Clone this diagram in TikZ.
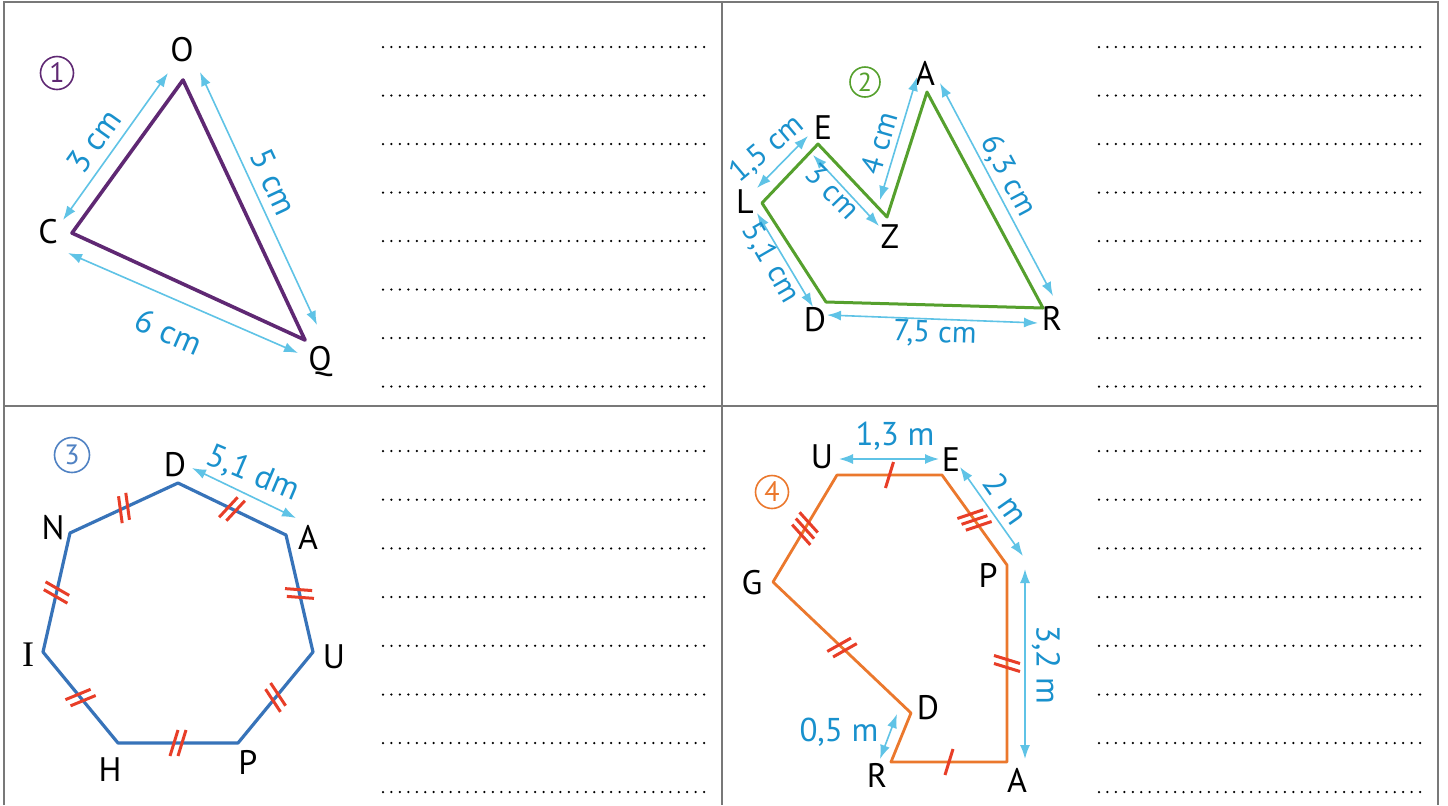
\documentclass[tikz,border=0pt]{standalone}
\usepackage{fontspec}
\setmainfont{PT Sans}
\newfontfamily\serifI{Liberation Serif}
\usetikzlibrary{arrows.meta,decorations.markings}
\definecolor{framegray}{RGB}{120,120,120}
\definecolor{purp}{RGB}{95,40,115}
\definecolor{grn}{RGB}{85,160,45}
\definecolor{blu}{RGB}{55,115,185}
\definecolor{blucirc}{RGB}{80,130,195}
\definecolor{orng}{RGB}{235,120,45}
\definecolor{tickred}{RGB}{232,62,40}
\definecolor{dimarrowc}{RGB}{95,195,230}
\definecolor{dimtext}{RGB}{25,145,205}
\tikzset{
  frameline/.style={draw=framegray, line width=1pt},
  dotrow/.style={draw=black, line width=1.25pt, line cap=round, dash pattern=on 0pt off 4.225pt},
  vlab/.style={font=\fontsize{17}{19}\selectfont, text=black, inner sep=0pt},
  dlab/.style={font=\fontsize{16.5}{19}\selectfont, text=dimtext, inner sep=0pt},
  dlabs/.style={font=\fontsize{15.2}{17}\selectfont, text=dimtext, inner sep=0pt},
  numcirc/.style={circle, line width=0.8pt, minimum size=16.5pt, inner sep=0pt, font=\fontsize{14}{15}\selectfont},
  dimarrow/.style={draw=dimarrowc, line width=0.8pt, {Latex[length=7pt,width=5pt]}-{Latex[length=7pt,width=5pt]}},
  polyline/.style={line width=#1, line join=round},
  tickstyle/.style={draw=tickred, line width=1.5pt},
  ticka/.style={postaction={decorate, decoration={markings, mark=at position 0.5 with {\draw[tickstyle] (-2pt,-6.5pt) -- (2pt,6.5pt);}}}},
  tickb/.style={postaction={decorate, decoration={markings, mark=at position 0.5 with {\draw[tickstyle] (-4pt,-6.5pt) -- (0pt,6.5pt); \draw[tickstyle] (0pt,-6.5pt) -- (4pt,6.5pt);}}}},
  tickc/.style={postaction={decorate, decoration={markings, mark=at position 0.5 with {\draw[tickstyle] (-5.6pt,-6.5pt) -- (-1.6pt,6.5pt); \draw[tickstyle] (-2pt,-6.5pt) -- (2pt,6.5pt); \draw[tickstyle] (1.6pt,-6.5pt) -- (5.6pt,6.5pt);}}}}
}
\begin{document}
\begin{tikzpicture}[x=0.5pt,y=-0.5pt]
\useasboundingbox (0,0) rectangle (1448,805);
\fill[white] (0,0) rectangle (1448,805);
% frame
\draw[frameline] (4,805) -- (4,2) -- (1438,2) -- (1438,805);
\draw[frameline] (722,2) -- (722,805);
\draw[frameline] (4,406) -- (1438,406);
% dotted answer lines
\foreach \y in {47,95.5,144,192.5,241,289.5,338,386.5,451,499.7,548.4,597,645.8,694.5,743,792}{
  \draw[dotrow] (383,\y) -- (704.5,\y);
  \draw[dotrow] (1099,\y) -- (1423.5,\y);
}

% ===== Figure 1 =====
\node[numcirc, draw=purp, text=purp] (n1) at (57,73) {1};
\coordinate (O1) at (183,80);
\coordinate (C1) at (72,233);
\coordinate (Q1) at (305,340);
\draw[polyline=1.8pt, draw=purp] (O1) -- (C1) -- (Q1) -- cycle;
\node[vlab] (lO1) at (182,50) {O};
\node[vlab] (lC1) at (48,232) {C};
\node[vlab] (lQ1) at (320,361) {Q};
\coordinate (a1s) at (63,220); \coordinate (a1e) at (168,73);
\coordinate (a2s) at (200,72); \coordinate (a2e) at (317,325);
\coordinate (a3s) at (68,253); \coordinate (a3e) at (298,353);
\draw[dimarrow] (a1s) -- (a1e);
\draw[dimarrow] (a2s) -- (a2e);
\draw[dimarrow] (a3s) -- (a3e);
\node[dlab, rotate=54.5] (d1) at (94,141) {3 cm};
\node[dlab, rotate=-65] (d2) at (274,182) {5 cm};
\node[dlab, rotate=-23.5] (d3) at (169,332) {6 cm};

% ===== Figure 2 =====
\node[numcirc, draw=grn, text=grn, minimum size=15pt, font=\fontsize{13}{14}\selectfont] (n2) at (865,82) {2};
\coordinate (A2) at (927,92);
\coordinate (E2) at (818,144);
\coordinate (L2) at (762,203);
\coordinate (Z2) at (887,217);
\coordinate (D2) at (826,302);
\coordinate (R2) at (1043,308);
\draw[polyline=1.5pt, draw=grn] (L2) -- (E2) -- (Z2) -- (A2) -- (R2) -- (D2) -- cycle;
\node[vlab] (lA2) at (925,73) {A};
\node[vlab] (lE2) at (823,128) {E};
\node[vlab] (lL2) at (745,202) {L};
\node[vlab] (lZ2) at (890,237) {Z};
\node[vlab] (lD2) at (815,320) {D};
\node[vlab] (lR2) at (1052,318) {R};
\coordinate (b1s) at (757,188); \coordinate (b1e) at (808,136);
\coordinate (b2s) at (813,155); \coordinate (b2e) at (879,226);
\coordinate (b3s) at (880,200); \coordinate (b3e) at (917,77);
\coordinate (b4s) at (940,83); \coordinate (b4e) at (1053,296);
\coordinate (b5s) at (757,213); \coordinate (b5e) at (813,307);
\coordinate (b6s) at (827,315); \coordinate (b6e) at (1038,323);
\draw[dimarrow] (b1s) -- (b1e);
\draw[dimarrow] (b2s) -- (b2e);
\draw[dimarrow] (b3s) -- (b3e);
\draw[dimarrow] (b4s) -- (b4e);
\draw[dimarrow] (b5s) -- (b5e);
\draw[dimarrow] (b6s) -- (b6e);
\node[dlabs, rotate=40] (e1) at (767,149) {1,5 cm};
\node[dlabs, rotate=-46] (e2) at (833,191) {3 cm};
\node[dlabs, rotate=74] (e3) at (879,143) {4 cm};
\node[dlabs, rotate=-62] (e4) at (1008,176) {6,3 cm};
\node[dlabs, rotate=-60] (e5) at (771,263) {5,1 cm};
\node[dlabs, rotate=-2] (e6) at (935,334) {7,5 cm};

% ===== Figure 3 =====
\node[numcirc, draw=blucirc, text=blucirc, minimum size=17.5pt] (n3) at (72,455) {3};
\coordinate (D3) at (178,483);
\coordinate (A3) at (286,535);
\coordinate (U3) at (313,652);
\coordinate (P3) at (238,743);
\coordinate (H3) at (118,743);
\coordinate (I3) at (43,652);
\coordinate (N3) at (70,533);
\draw[polyline=1.6pt, draw=blu] (D3) -- (A3) -- (U3) -- (P3) -- (H3) -- (I3) -- (N3) -- cycle;
\path[tickb] (D3) -- (A3);
\path[tickb] (A3) -- (U3);
\path[tickb] (U3) -- (P3);
\path[tickb] (P3) -- (H3);
\path[tickb] (H3) -- (I3);
\path[tickb] (I3) -- (N3);
\path[tickb] (N3) -- (D3);
\node[vlab] (lD3) at (175,465) {D};
\node[vlab] (lA3) at (308,537) {A};
\node[vlab] (lU3) at (334,657) {U};
\node[vlab] (lP3) at (248,762) {P};
\node[vlab] (lH3) at (110,770) {H};
\node[vlab, font=\fontsize{18}{19}\serifI] (lI3) at (28,655) {I};
\node[vlab] (lN3) at (53,528) {N};
\coordinate (c1s) at (192,468); \coordinate (c1e) at (296,518);
\draw[dimarrow] (c1s) -- (c1e);
\node[dlab, rotate=-23] (f1) at (253,474) {5,1 dm};

% ===== Figure 4 =====
\node[numcirc, draw=orng, text=orng] (n4) at (772,492) {4};
\coordinate (U4) at (837,475);
\coordinate (E4) at (942,475);
\coordinate (P4) at (1007,565);
\coordinate (A4) at (1007,762);
\coordinate (R4) at (891,762);
\coordinate (D4) at (911,713);
\coordinate (G4) at (773,582);
\draw[polyline=1.4pt, draw=orng] (U4) -- (E4) -- (P4) -- (A4) -- (R4) -- (D4) -- (G4) -- cycle;
\path[ticka] (U4) -- (E4);
\path[tickc] (E4) -- (P4);
\path[tickb] (P4) -- (A4);
\path[ticka] (A4) -- (R4);
\path[tickb] (D4) -- (G4);
\path[tickc] (G4) -- (U4);
\node[vlab] (lU4) at (822,457) {U};
\node[vlab] (lE4) at (951,460) {E};
\node[vlab] (lP4) at (988,575) {P};
\node[vlab] (lA4) at (1017,780) {A};
\node[vlab] (lR4) at (877,775) {R};
\node[vlab] (lD4) at (928,708) {D};
\node[vlab] (lG4) at (752,583) {G};
\coordinate (g1s) at (839,459); \coordinate (g1e) at (939,459);
\coordinate (g2s) at (960,467); \coordinate (g2e) at (1023,556);
\coordinate (g3s) at (1025,569); \coordinate (g3e) at (1025,759);
\coordinate (g4s) at (880,759); \coordinate (g4e) at (897,714);
\draw[dimarrow] (g1s) -- (g1e);
\draw[dimarrow] (g2s) -- (g2e);
\draw[dimarrow] (g3s) -- (g3e);
\draw[dimarrow] (g4s) -- (g4e);
\node[dlab] (h1) at (895,436) {1,3 m};
\node[dlab, rotate=-55] (h2) at (1006,499) {2 m};
\node[dlab, rotate=-90] (h3) at (1046,665) {3,2 m};
\node[dlab] (h4) at (839,732) {0,5 m};
\end{tikzpicture}
\end{document}
